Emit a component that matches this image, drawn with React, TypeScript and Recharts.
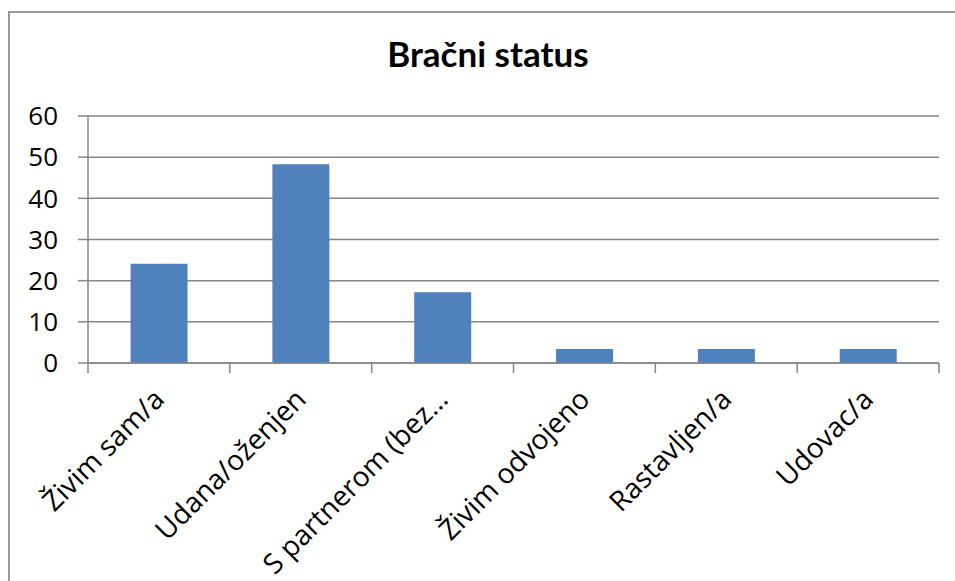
import React from 'react';
import { BarChart, Bar, XAxis, YAxis, CartesianGrid } from 'recharts';

const title = 'Bračni status';
const categories = [
  'Živim sam/a',
  'Udana/oženjen',
  'S partnerom (bez…',
  'Živim odvojeno',
  'Rastavljen/a',
  'Udovac/a',
];
const values = [24.1, 48.3, 17.2, 3.4, 3.4, 3.4];
const yTicks = [0, 10, 20, 30, 40, 50, 60];

const data = categories.map((name, i) => ({ name, value: values[i] }));

const AXIS = '#868686';
const FONT = '"Open Sans", sans-serif';

const XTick = (props: any) => {
  const { x, y, payload, index, visibleTicksCount } = props;
  const half = payload && payload.offset ? payload.offset : 70.9;
  const left = x - half;
  const right = x + half;
  const ax = x + 7;
  const ay = y + 38;
  return (
    <g>
      <line x1={left} y1={y} x2={left} y2={y + 10} stroke={AXIS} strokeWidth={1.5} />
      {index === visibleTicksCount - 1 && (
        <line x1={right} y1={y} x2={right} y2={y + 10} stroke={AXIS} strokeWidth={1.5} />
      )}
      <text
        x={ax}
        y={ay}
        transform={`rotate(-45, ${ax}, ${ay})`}
        textAnchor="end"
        fontFamily={FONT}
        fontSize={28}
        fill="#000"
      >
        {payload.value}
      </text>
    </g>
  );
};

export default function App() {
  return (
    <div style={{ position: 'absolute', left: 0, top: 0, width: 955, height: 581, overflow: 'hidden', background: '#fff' }}>
      <div
        style={{
          position: 'absolute',
          left: 8,
          top: 11,
          width: 970,
          height: 600,
          borderLeft: '2px solid #9a9a9a',
          borderTop: '2px solid #9a9a9a',
        }}
      />
      <div
        style={{
          position: 'absolute',
          left: 0,
          top: 32,
          width: 976,
          textAlign: 'center',
          fontFamily: 'Lato, sans-serif',
          fontWeight: 700,
          fontSize: 35,
          lineHeight: '42px',
          color: '#000',
        }}
      >
        {title}
      </div>
      <div style={{ position: 'absolute', left: 0, top: 0 }}>
        <BarChart
          width={955}
          height={581}
          data={data}
          margin={{ top: 116, right: 16, left: 0, bottom: 0 }}
          barCategoryGap="30%"
        >
          <CartesianGrid vertical={false} stroke={AXIS} strokeWidth={1.5} />
          <XAxis
            dataKey="name"
            interval={0}
            height={218}
            axisLine={{ stroke: AXIS, strokeWidth: 1.5 }}
            tickLine={false}
            tickSize={0}
            tickMargin={0}
            tick={<XTick />}
          />
          <YAxis
            width={88}
            domain={[0, 60]}
            ticks={yTicks}
            interval={0}
            axisLine={{ stroke: AXIS, strokeWidth: 1.5 }}
            tickLine={{ stroke: AXIS, strokeWidth: 1.5 }}
            tickSize={10}
            tickMargin={20}
            tick={{ fill: '#000', fontSize: 26, fontFamily: FONT }}
          />
          <Bar dataKey="value" fill="#4F81BD" isAnimationActive={false} />
        </BarChart>
      </div>
    </div>
  );
}
